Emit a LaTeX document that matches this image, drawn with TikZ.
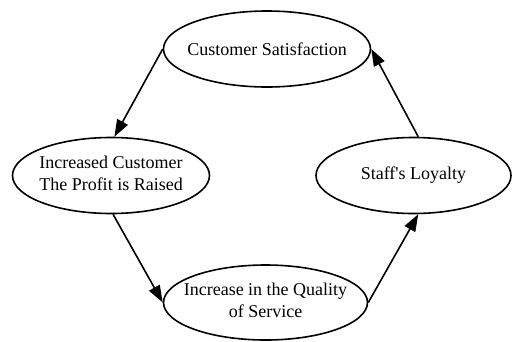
\documentclass[tikz,border=0pt]{standalone}
\usepackage{fontspec}
\setmainfont{Liberation Serif}[Ligatures=TeXOff]
\usetikzlibrary{shapes.geometric,arrows.meta}
\newcommand{\onel}[1]{\makebox[0pt][c]{#1}}
\newcommand{\twol}[2]{\makebox[0pt][c]{\begin{tabular}{@{}c@{}}#1\\#2\end{tabular}}}
\begin{document}
\begin{tikzpicture}[x=1pt,y=-1pt,
  ell/.style={draw, ellipse, line width=1.6pt, inner sep=0pt, font=\fontsize{18}{22}\selectfont},
  arr/.style={line width=1.6pt, -{Triangle[length=17pt,width=12pt]}}]
\useasboundingbox (0,0) rectangle (512,341);
\node[ell, minimum width=207pt, minimum height=76pt] (top) at (267,49) {\onel{Customer Satisfaction}};
\node[ell, minimum width=197pt, minimum height=76pt] (left) at (111,175.5) {\twol{Increased Customer}{The Profit is Raised}};
\node[ell, minimum width=195pt, minimum height=76pt] (right) at (413.5,175.5) {\onel{Staff's Loyalty}};
\node[ell, minimum width=204pt, minimum height=75pt] (bottom) at (265.5,302.5) {\twol{Increase in the Quality}{of Service}};
\draw[arr] (top.west) -- (left.85);
\draw[arr] (left.-87) -- (bottom.west);
\draw[arr] (bottom.east) -- (right.-83);
\draw[arr] (right.83) -- (top.east);
\end{tikzpicture}
\end{document}
